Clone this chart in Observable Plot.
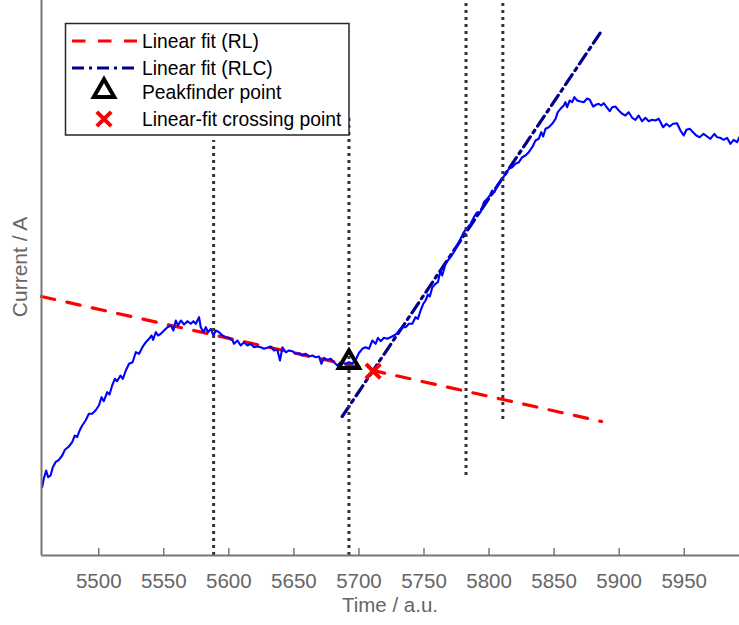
<!DOCTYPE html>
<html>
<head>
<meta charset="utf-8">
<script src="https://cdn.jsdelivr.net/npm/d3@7"></script>
<script src="https://cdn.jsdelivr.net/npm/@observablehq/plot@0.6"></script>
<style>
  html, body { margin: 0; padding: 0; background: #fff; }
  #chart { width: 739px; height: 625px; }
</style>
</head>
<body>
<div id="chart"></div>
<script>
// ---- data ----
const time = [5456.5,5457.8,5459.6,5461.1,5463.0,5464.7,5466.8,5469.4,5471.9,5474.0,5477.0,5479.6,5481.6,5483.4,5485.3,5487.3,5489.9,5492.4,5494.9,5497.5,5500.1,5502.2,5503.9,5506.5,5508.3,5510.3,5512.4,5514.1,5516.7,5518.5,
5520.8,5523.3,5526.0,5528.5,5531.0,5533.6,5536.2,5538.7,5540.6,5541.8,5543.9,5545.6,5547.7,5550.2,5552.8,5555.4,5557.4,5559.2,5561.0,5563.1,5565.6,5568.2,5570.7,5572.8,5574.6,5577.1,5578.4,5580.5,5582.3,5584.0,5586.1,5588.2,5589.9,5592.5,5595.1,5597.6,5600.1,5602.8,
5604.0,5606.6,5609.1,5611.7,5614.3,5616.8,5619.3,5622.0,5624.5,5627.0,5629.6,5632.2,5634.7,5637.3,5639.3,5641.2,5643.7,5646.2,5648.8,5651.4,5653.9,5656.5,5659.1,5661.6,5664.2,5666.7,5669.3,5671.1,5673.1,5675.7,5678.3,5680.8,5683.4,5685.9,5689.8,5692.3,5694.9,5697.5,
5700.0,5702.6,5705.1,5707.7,5710.3,5712.8,5714.6,5716.7,5719.2,5721.8,5724.3,5726.9,5728.9,5730.7,5733.3,5735.9,5738.4,5741.0,5743.5,5745.3,5747.4,5749.4,5751.2,5753.0,5754.5,5756.4,5758.9,5760.7,5762.7,5764.0,5766.6,5768.3,5770.4,5772.9,5775.6,5778.1,5780.6,
5783.2,5785.8,5788.3,5790.9,5793.5,5796.0,5798.6,5800.6,5802.4,5804.2,5806.3,5808.3,5810.1,5812.7,5815.2,5817.8,5820.3,5822.9,5825.5,5828.0,5830.5,5833.2,5835.7,5838.2,5840.1,5841.6,5843.4,5845.9,5848.5,5851.1,5852.8,5854.9,5857.4,5858.7,5860.0,5862.0,5863.9,5865.6,5867.7,
5870.3,5872.8,5875.4,5877.4,5880.0,5882.5,5884.3,5886.2,5888.1,5890.8,5892.8,5894.6,5897.1,5899.7,5902.3,5904.8,5907.3,5910.0,5912.5,5915.0,5917.6,5920.2,5922.7,5925.3,5927.9,5930.4,5933.8,5936.3,5938.8,5941.4,5944.5,5947.1,5949.6,5951.7,5954.2,5956.8,5959.3,5961.9,5964.9,5967.6,5970.1,5973.2,5975.2,5977.8,5980.3,5982.9,5985.5,5988.0,5990.6,5992.4];

const current = [0.683,0.77,0.85,0.783,0.80,0.883,0.933,0.957,1.00,1.057,1.09,1.133,1.20,1.183,1.25,1.30,1.35,1.417,1.417,1.45,1.50,1.583,1.543,1.633,1.61,1.70,1.767,1.743,1.80,1.767,
1.85,1.917,1.933,2.033,2.017,2.083,2.133,2.167,2.20,2.157,2.233,2.20,2.217,2.25,2.283,2.30,2.25,2.35,2.30,2.35,2.31,2.343,2.317,2.343,2.317,2.383,2.283,2.233,2.283,2.233,2.267,2.20,2.25,2.233,2.20,2.183,2.177,2.15,
2.117,2.15,2.10,2.133,2.10,2.117,2.083,2.09,2.083,2.067,2.077,2.09,2.05,2.057,1.95,2.083,2.033,2.05,2.043,2.017,2.023,2.00,2.017,1.99,2.00,1.983,1.99,1.917,1.977,1.957,1.967,1.933,1.90,1.933,1.917,1.933,1.917,1.957,
2.025,2.067,2.083,2.067,2.15,2.117,2.177,2.143,2.177,2.167,2.183,2.20,2.217,2.25,2.283,2.283,2.317,2.317,2.383,2.367,2.45,2.517,2.55,2.61,2.59,2.683,2.717,2.733,2.85,2.80,2.917,2.95,2.983,3.033,3.10,3.167,3.233,
3.275,3.317,3.383,3.433,3.433,3.533,3.567,3.60,3.65,3.633,3.70,3.733,3.767,3.817,3.867,3.883,3.917,3.933,3.983,4.00,4.033,4.083,4.15,4.167,4.233,4.19,4.267,4.283,4.317,4.367,4.433,4.467,4.50,4.533,4.483,4.55,4.533,4.583,4.55,
4.54,4.533,4.57,4.557,4.49,4.51,4.517,4.50,4.523,4.477,4.443,4.483,4.49,4.45,4.417,4.40,4.433,4.377,4.357,4.40,4.343,4.377,4.343,4.357,4.35,4.367,4.283,4.317,4.29,4.317,4.323,4.25,4.20,4.257,4.267,4.233,4.20,4.183,4.217,4.19,4.167,4.217,4.183,4.177,4.157,4.177,4.117,4.157,4.133,4.183];

// Linear fit (RL) end points
const rlFitX = [5456.0, 5886.5];
const rlFitY = [2.59, 1.34];
// Linear fit (RLC) end points
const rlcFitX = [5687.1, 5887.1];
const rlcFitY = [1.39, 5.257];
// Peakfinder point and linear-fit crossing point
const peakX = [5692.3];
const peakY = [1.933];
const crossX = [5710.9];
const crossY = [1.843];
// vertical dotted markers
const vlineX = [5588.3, 5692.3, 5782.3, 5810.6];
const vlineTop = [4.15, 4.40, 5.55, 5.55];
const vlineBottom = [0, 0, 0.80, 1.36];

const xTicks = [5500,5550,5600,5650,5700,5750,5800,5850,5900,5950];
const xDomain = [5456.0, 5992.5];
const yDomain = [0, 5.55];

const xLabel = "Time / a.u.";
const yLabel = "Current / A";
const legendLabels = ["Linear fit (RL)", "Linear fit (RLC)", "Peakfinder point", "Linear-fit crossing point"];

// ---- build tables ----
const series = time.map((t, i) => ({t, c: current[i]}));
const rl = rlFitX.map((t, i) => ({t, c: rlFitY[i]}));
const rlc = rlcFitX.map((t, i) => ({t, c: rlcFitY[i]}));
const peaks = peakX.map((t, i) => ({t, c: peakY[i]}));
const crosses = crossX.map((t, i) => ({t, c: crossY[i]}));
const vlines = vlineX.map((t, i) => ({t, top: vlineTop[i], bottom: vlineBottom[i]}));

const FONT = "'Liberation Sans', Arial, Helvetica, sans-serif";
const RED = "#ff0000", NAVY = "#00008b", BLUE = "#0000ff", DOT = "#333333", GRAY = "#666666";
const RL_DASH = "13.5,12.5", RLC_DASH = "12,5,3,5";
const TRI_R = 7.6, X_R = 6.6;

const chart = Plot.plot({
  width: 739,
  height: 625,
  marginLeft: 41,
  marginRight: 0,
  marginTop: 0,
  marginBottom: 70,
  style: {fontFamily: FONT, fontSize: "20.5px", color: GRAY, background: "white"},
  x: {domain: xDomain},
  y: {domain: yDomain},
  marks: [
    Plot.line(rl, {x: "t", y: "c", stroke: RED, strokeWidth: 3.2, strokeDasharray: RL_DASH}),
    Plot.line(rlc, {x: "t", y: "c", stroke: NAVY, strokeWidth: 3.2, strokeDasharray: RLC_DASH}),
    Plot.line(series, {x: "t", y: "c", stroke: BLUE, strokeWidth: 2.1}),
    Plot.ruleX(vlines, {x: "t", y1: "bottom", y2: "top", stroke: DOT, strokeWidth: 3, strokeDasharray: "3,4"}),
    Plot.dot(peaks, {x: "t", y: "c", symbol: "triangle", r: TRI_R, fill: "none", stroke: "black", strokeWidth: 4}),
    Plot.dot(crosses, {x: "t", y: "c", symbol: "times", r: X_R, stroke: RED, strokeWidth: 4}),
    Plot.ruleY([yDomain[0]], {stroke: "#777", strokeWidth: 2}),
    Plot.ruleX([xDomain[0]], {stroke: "#777", strokeWidth: 2}),
    Plot.axisX({ticks: xTicks, tickSize: -7, tickPadding: 25, tickFormat: d => String(d), label: null, stroke: GRAY, strokeWidth: 1.3}),
    Plot.axisY({ticks: [], label: null})
  ]
});
document.getElementById("chart").appendChild(chart);

const svg = d3.select(chart);

// ---- axis titles ----
svg.append("text").attr("x", 390).attr("y", 605).attr("dy", "0.35em")
  .attr("text-anchor", "middle").attr("font-family", FONT).attr("font-size", 20.5)
  .attr("fill", GRAY).text(xLabel);
svg.append("text").attr("transform", "translate(20,267) rotate(-90)").attr("dy", "0.35em")
  .attr("text-anchor", "middle").attr("font-family", FONT).attr("font-size", 21)
  .attr("fill", GRAY).text(yLabel);

// ---- legend ----
const lg = svg.append("g").attr("font-family", FONT).attr("font-size", 19.3);
lg.append("rect").attr("x", 65.5).attr("y", 23.5).attr("width", 283.5).attr("height", 111.5)
  .attr("fill", "white").attr("stroke", "#262626").attr("stroke-width", 1.5);
const rowY = [41, 68, 92, 119];
lg.append("line").attr("x1", 72).attr("x2", 137).attr("y1", rowY[0]).attr("y2", rowY[0])
  .attr("stroke", RED).attr("stroke-width", 3.2).attr("stroke-dasharray", RL_DASH);
lg.append("line").attr("x1", 72).attr("x2", 137).attr("y1", rowY[1]).attr("y2", rowY[1])
  .attr("stroke", NAVY).attr("stroke-width", 3.2).attr("stroke-dasharray", RLC_DASH);
lg.append("path").attr("transform", `translate(104,${rowY[2] - 1})`)
  .attr("d", d3.symbol(d3.symbolTriangle, Math.PI * TRI_R * TRI_R)())
  .attr("fill", "none").attr("stroke", "black").attr("stroke-width", 4);
lg.append("path").attr("transform", `translate(104,${rowY[3]})`)
  .attr("d", d3.symbol(d3.symbolTimes, Math.PI * X_R * X_R)())
  .attr("fill", "none").attr("stroke", RED).attr("stroke-width", 4);
legendLabels.forEach((s, i) => {
  lg.append("text").attr("x", 142).attr("y", rowY[i]).attr("dy", "0.35em")
    .attr("text-anchor", "start").attr("fill", "black").text(s);
});
</script>
</body>
</html>
